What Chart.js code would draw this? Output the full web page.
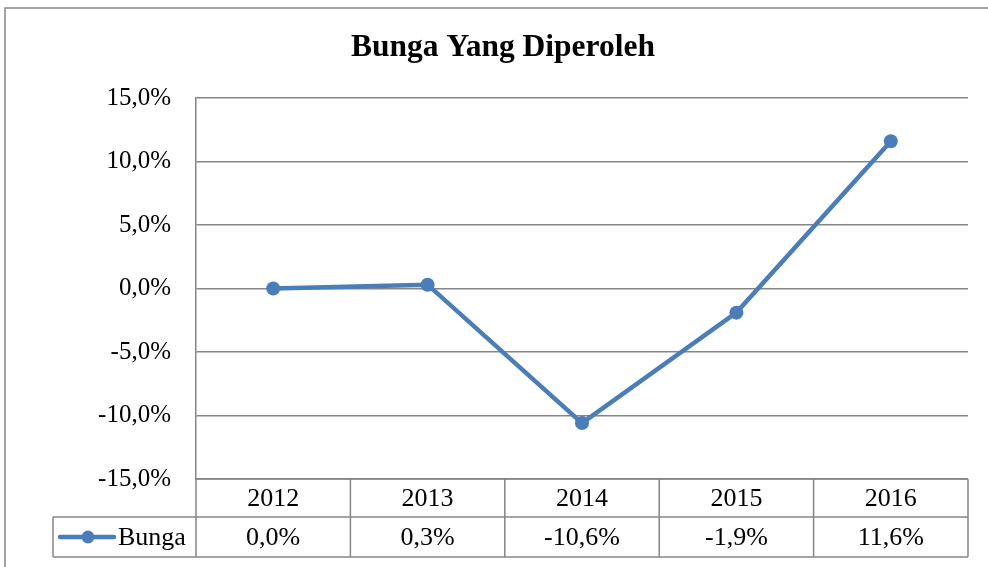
<!DOCTYPE html>
<html>
<head>
<meta charset="utf-8">
<script src="https://cdn.jsdelivr.net/npm/chart.js@4"></script>
<style>
    html, body { margin: 0; padding: 0; background: #fff; }
    .wrap { position: relative; width: 988px; height: 567px; }
</style>
</head>
<body>
<div class="wrap"><canvas class="line-chart"></canvas></div>
<script>
const years = ['2012', '2013', '2014', '2015', '2016'];
const bunga = [0.0, 0.3, -10.6, -1.9, 11.6];
const yTicks = [-15, -10, -5, 0, 5, 10, 15];

const lineBlue = 'rgb(74,126,187)';
const gridGray = 'rgb(134,134,134)';
const serif = '"Liberation Serif", "Times New Roman", serif';

const pct = v => v.toFixed(1).replace('.', ',') + '%';

// title, outer frame and the data table under the plot
const extras = {
    id: 'extras',
    afterDraw(chart) {
        const ctx = chart.ctx;
        const x = chart.scales.x;
        const area = chart.chartArea;
        const half = (x.getPixelForValue(1) - x.getPixelForValue(0)) / 2;
        const top = area.bottom, mid = top + 38, bot = mid + 40;
        const legendLeft = 53;

        ctx.save();
        ctx.strokeStyle = gridGray;
        ctx.lineWidth = 1.5;

        // outer frame
        ctx.beginPath();
        ctx.moveTo(5, 567);
        ctx.lineTo(5, 8);
        ctx.lineTo(988, 8);
        ctx.stroke();

        // table lines
        ctx.beginPath();
        ctx.moveTo(area.left, top); ctx.lineTo(area.right, top);
        ctx.moveTo(legendLeft, mid); ctx.lineTo(area.right, mid);
        ctx.moveTo(legendLeft, bot); ctx.lineTo(area.right, bot);
        ctx.moveTo(legendLeft, mid); ctx.lineTo(legendLeft, bot);
        years.forEach((y, i) => {
            const px = x.getPixelForValue(i) - half;
            ctx.moveTo(px, top); ctx.lineTo(px, bot);
        });
        ctx.moveTo(area.right, top); ctx.lineTo(area.right, bot);
        ctx.stroke();

        // cell text
        ctx.fillStyle = '#000';
        ctx.font = '26px ' + serif;
        ctx.textAlign = 'center';
        ctx.textBaseline = 'middle';
        years.forEach((y, i) => {
            const px = x.getPixelForValue(i);
            ctx.fillText(y, px, top + 20);
            ctx.fillText(pct(bunga[i]), px, mid + 21);
        });

        // legend key
        ctx.strokeStyle = lineBlue;
        ctx.lineWidth = 4.5;
        ctx.lineCap = 'round';
        ctx.beginPath();
        ctx.moveTo(60, mid + 20); ctx.lineTo(114, mid + 20);
        ctx.stroke();
        ctx.fillStyle = lineBlue;
        ctx.beginPath();
        ctx.arc(88, mid + 20, 6.5, 0, Math.PI * 2);
        ctx.fill();
        ctx.fillStyle = '#000';
        ctx.textAlign = 'left';
        ctx.fillText('Bunga', 118, mid + 21);

        // title
        ctx.font = 'bold 31.5px ' + serif;
        ctx.textAlign = 'center';
        ctx.fillText('Bunga Yang Diperoleh', 503, 48);
        ctx.restore();
    }
};

new Chart(document.querySelector('.line-chart').getContext('2d'), {
    type: 'line',
    data: {
        labels: years,
        datasets: [{
            label: 'Bunga',
            data: bunga,
            borderColor: lineBlue,
            backgroundColor: lineBlue,
            borderWidth: 4.5,
            pointRadius: 7,
            pointBorderWidth: 0,
            tension: 0
        }]
    },
    options: {
        responsive: true,
        maintainAspectRatio: false,
        animation: false,
        layout: {
            padding: { left: 0, top: 98, right: 20, bottom: 88 }
        },
        scales: {
            x: {
                offset: true,
                grid: { display: false, drawTicks: false },
                border: { display: false },
                ticks: { display: false }
            },
            y: {
                min: -15,
                max: 15,
                afterFit: s => { s.width = 196; },
                afterBuildTicks: s => { s.ticks = yTicks.map(v => ({ value: v })); },
                grid: { color: gridGray, lineWidth: 1.5, drawTicks: false },
                border: { color: gridGray, width: 1.5 },
                ticks: {
                    padding: 25,
                    color: '#000',
                    font: { family: serif, size: 25 },
                    callback: v => pct(v)
                }
            }
        },
        plugins: {
            legend: { display: false },
            tooltip: { enabled: false }
        }
    },
    plugins: [extras]
});
</script>
</body>
</html>
